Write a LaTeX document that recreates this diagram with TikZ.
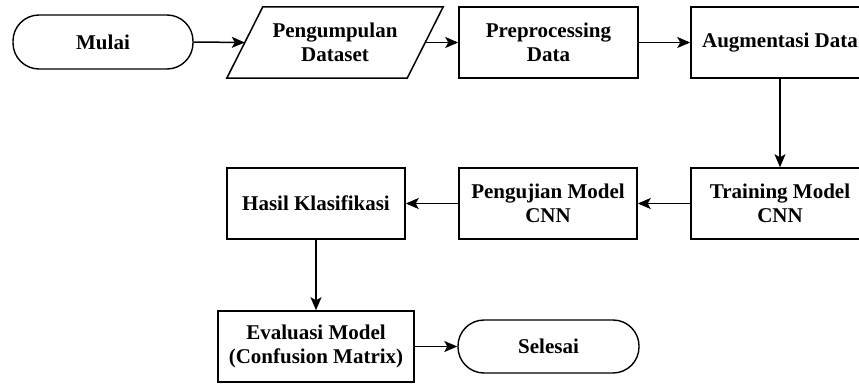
\documentclass[tikz,border=0pt]{standalone}
\usepackage{fontspec}
\setmainfont{Liberation Serif}
\usetikzlibrary{arrows.meta}
\begin{document}
\begin{tikzpicture}[x=1pt,y=-1pt,
  every node/.style={font=\fontsize{21}{24}\selectfont\bfseries, align=center, inner sep=0pt},
  box/.style={draw, line width=1.5pt, minimum width=#1, minimum height=71pt},
  term/.style={draw, line width=1.4pt, rounded corners=26pt, minimum width=180pt, minimum height=54pt},
  flow/.style={line width=1.5pt, -{Stealth[length=13pt,width=11pt,inset=3pt]}}]
\useasboundingbox (0,0) rectangle (859,385);
\node[term] (mulai) at (103,42) {Mulai};
\node[minimum width=180pt, minimum height=71pt] (pd) at (335,42.5) {Pengumpulan\\Dataset};
\draw[line width=1.5pt] ([xshift=-18pt]pd.south west) -- ([xshift=18pt]pd.north west) -- ([xshift=18pt]pd.north east) -- ([xshift=-18pt]pd.south east) -- cycle;
\node[box=179pt] (pre) at (548.5,42.5) {Preprocessing\\Data};
\node[box=178pt] (aug) at (780,42.5) {Augmentasi Data};
\node[box=178pt] (train) at (780,203.5) {Training Model\\CNN};
\node[box=178pt] (peng) at (548,203.5) {Pengujian Model\\CNN};
\node[box=178pt] (hasil) at (316,203.5) {Hasil Klasifikasi};
\node[box=196pt] (eval) at (316,346.5) {Evaluasi Model\\(Confusion Matrix)};
\node[term, minimum width=181pt, minimum height=53pt] (sel) at (548.5,346.5) {Selesai};
\draw[flow] (mulai.east) -- (pd.west);
\draw[flow] (pd.east) -- (pre.west);
\draw[flow] (pre.east) -- (aug.west);
\draw[flow] (aug.south) -- (train.north);
\draw[flow] (train.west) -- (peng.east);
\draw[flow] (peng.west) -- (hasil.east);
\draw[flow] (hasil.south) -- (eval.north);
\draw[flow] (eval.east) -- (sel.west);
\end{tikzpicture}
\end{document}
